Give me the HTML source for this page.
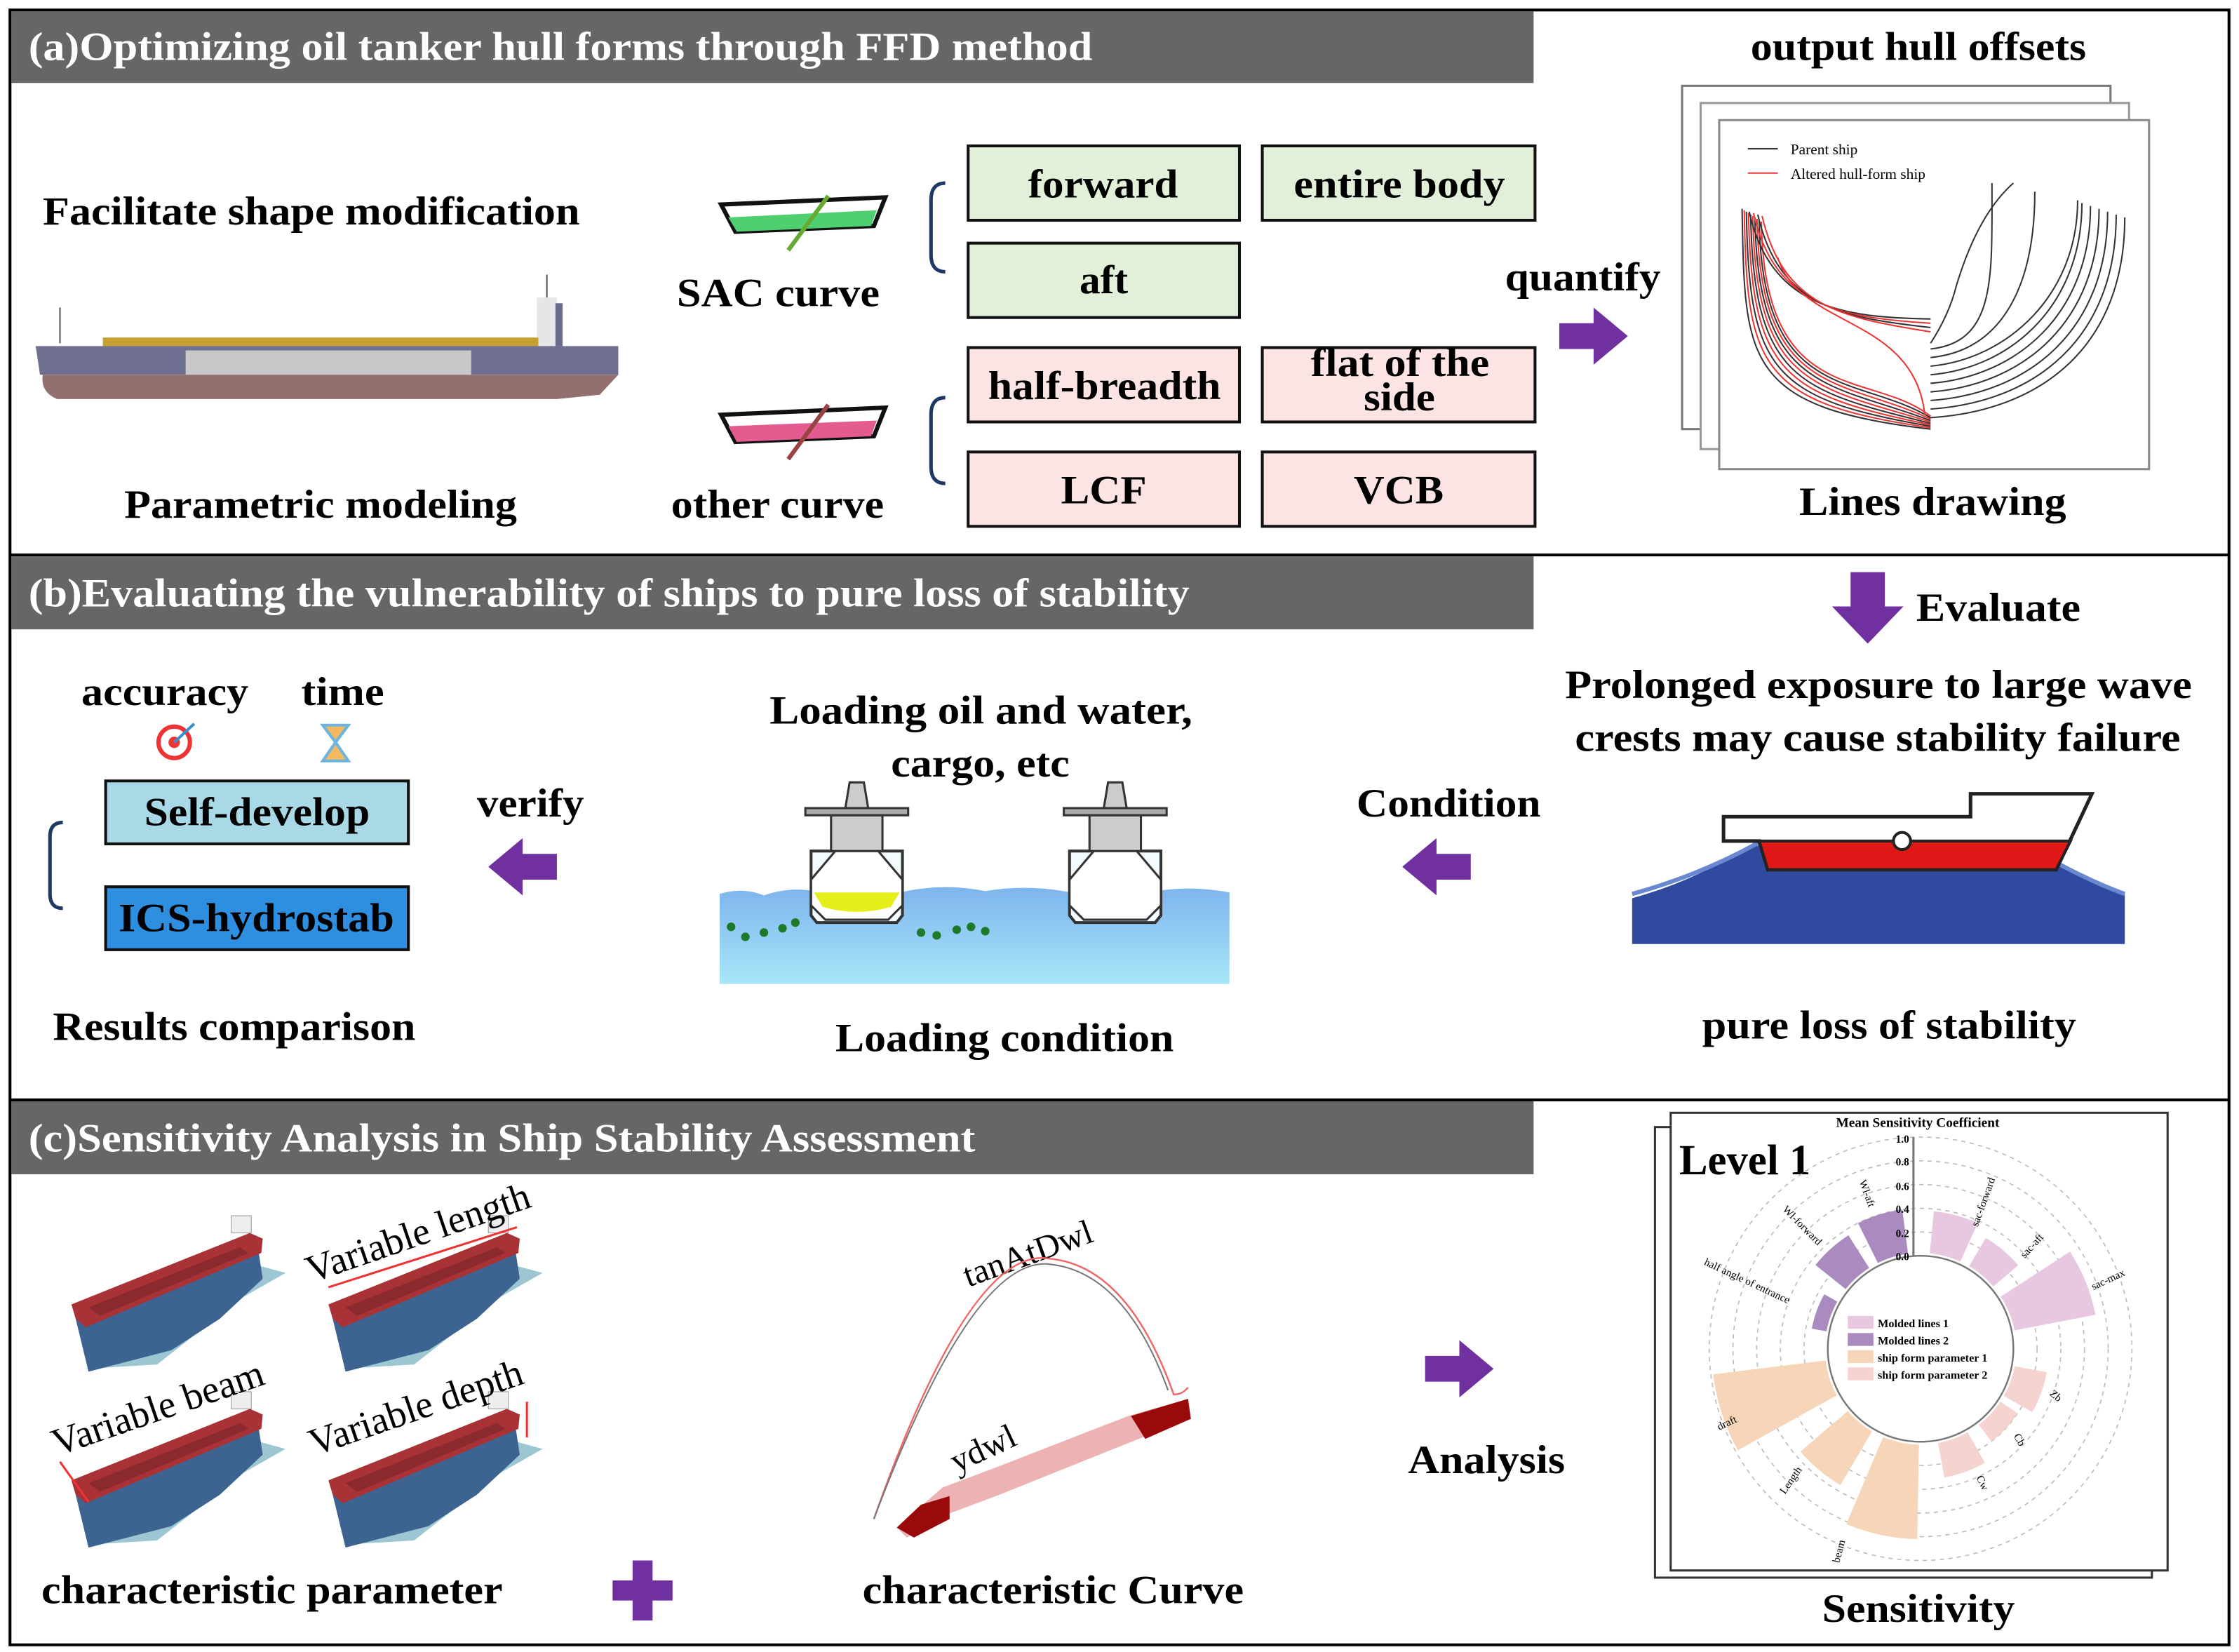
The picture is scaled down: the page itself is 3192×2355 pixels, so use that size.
<!DOCTYPE html>
<html><head><meta charset="utf-8"><style>
html,body{margin:0;padding:0;background:#fff;}
svg{display:block;}
text{font-family:"Liberation Serif","Times New Roman",serif;font-weight:bold;fill:#000;}
</style></head><body>
<svg id="s" width="3192" height="2355" viewBox="0 0 1568 1155" preserveAspectRatio="none" xmlns="http://www.w3.org/2000/svg" font-family="Liberation Serif, serif">
<defs>
<g id="arrow"><polygon points="0,-9 24,-9 24,-20 48,0 24,20 24,9 0,9" fill="#7030a0"/></g>
<g id="tk">
<polygon points="10,95 60,92 120,45 150,28 128,22 60,72" fill="#9cc7d2"/>
<polygon points="2,56 130,6 134,32 104,60 70,82 12,97" fill="#3d6491"/>
<polygon points="0,50 125,0 134,4 133,14 10,66 3,60" fill="#a83236"/>
<polygon points="12,52 118,10 124,14 20,58" fill="#8a2a2e"/>
<rect x="112" y="-12" width="14" height="12" fill="#eee" stroke="#999" stroke-width="0.5"/>
</g>
<g id="tanker">
<polygon points="-32,0 32,0 32,45 28,50 -28,50 -32,45" fill="#f4fbff" stroke="#333" stroke-width="2"/>
<polygon points="-15,0 15,0 32,20 32,38 22,48 -22,48 -32,38 -32,20" fill="#fff" stroke="#333" stroke-width="1.5"/>
<rect x="-18" y="-25" width="36" height="25" fill="#ccc" stroke="#333" stroke-width="1.5"/>
<polygon points="-36,-30 36,-30 36,-25 -36,-25" fill="#aaa" stroke="#333" stroke-width="1.5"/>
<polygon points="-8,-30 -5,-48 5,-48 8,-30" fill="#ccc" stroke="#333" stroke-width="1.5"/>
</g>
</defs>
<rect x="7" y="7" width="1554" height="1143" fill="none" stroke="#000" stroke-width="2"/>
<line x1="7" y1="388" x2="1561" y2="388" stroke="#000" stroke-width="2"/>
<line x1="7" y1="769" x2="1561" y2="769" stroke="#000" stroke-width="2"/>
<rect x="8" y="8" width="1066" height="50" fill="#666"/>
<rect x="8" y="389" width="1066" height="51" fill="#666"/>
<rect x="8" y="770" width="1066" height="51" fill="#666"/>
<text x="20" y="42" font-size="28" textLength="745" lengthAdjust="spacingAndGlyphs" style="fill:#fff">(a)Optimizing oil tanker hull forms through FFD method</text>
<text x="20" y="424" font-size="28" textLength="813" lengthAdjust="spacingAndGlyphs" style="fill:#fff">(b)Evaluating the vulnerability of ships to pure loss of stability</text>
<text x="20" y="805" font-size="28" textLength="663" lengthAdjust="spacingAndGlyphs" style="fill:#fff">(c)Sensitivity Analysis in Ship Stability Assessment</text>

<!-- section a -->
<text x="30" y="157" font-size="28" textLength="376" lengthAdjust="spacingAndGlyphs">Facilitate shape modification</text>
<text x="87" y="362" font-size="28" textLength="275" lengthAdjust="spacingAndGlyphs">Parametric modeling</text>
<g>
<line x1="42" y1="215" x2="42" y2="240" stroke="#555"/>
<line x1="383" y1="192" x2="383" y2="215" stroke="#555"/>
<rect x="376" y="208" width="14" height="35" fill="#e6e6e6"/>
<rect x="389" y="212" width="5" height="30" fill="#6b6b90"/>
<rect x="72" y="236" width="305" height="6" fill="#c8a030"/>
<path d="M25,242 L433,242 L433,262 L28,262 Z" fill="#6f6f8f"/>
<rect x="130" y="245" width="200" height="17" fill="#c8c8c8"/>
<path d="M30,262 L433,262 L420,276 L390,279 L40,279 Q28,274 30,262 Z" fill="#927070"/>
</g>
<g>
<path d="M505,143 L620,138 L612,158 L515,162 Z" fill="#fff" stroke="#111" stroke-width="3"/>
<path d="M510,152 L614,147 L610,158 L516,162 Z" fill="#4fcf6f"/>
<line x1="580" y1="137" x2="552" y2="175" stroke="#6a3" stroke-width="3"/>
<path d="M505,290 L620,285 L612,305 L515,309 Z" fill="#fff" stroke="#111" stroke-width="3"/>
<path d="M510,298 L614,294 L610,305 L516,309 Z" fill="#e45b8f"/>
<line x1="580" y1="283" x2="552" y2="321" stroke="#944" stroke-width="3"/>
</g>
<text x="474" y="214" font-size="28" textLength="142" lengthAdjust="spacingAndGlyphs">SAC curve</text>
<text x="470" y="362" font-size="28" textLength="149" lengthAdjust="spacingAndGlyphs">other curve</text>
<path d="M662,128 Q652,128 652,140 L652,178 Q652,190 662,190" fill="none" stroke="#1f3864" stroke-width="2.5"/>
<path d="M662,278 Q652,278 652,290 L652,326 Q652,338 662,338" fill="none" stroke="#1f3864" stroke-width="2.5"/>
<g stroke="#111" stroke-width="2">
<rect x="678" y="102" width="190" height="52" fill="#e2efd9"/>
<rect x="884" y="102" width="191" height="52" fill="#e2efd9"/>
<rect x="678" y="170" width="190" height="52" fill="#e2efd9"/>
<rect x="678" y="243" width="190" height="52" fill="#fce4e4"/>
<rect x="884" y="243" width="191" height="52" fill="#fce4e4"/>
<rect x="678" y="316" width="190" height="52" fill="#fce4e4"/>
<rect x="884" y="316" width="191" height="52" fill="#fce4e4"/>
</g>
<g font-size="28">
<text x="720" y="138" textLength="105" lengthAdjust="spacingAndGlyphs">forward</text>
<text x="906" y="138" textLength="148" lengthAdjust="spacingAndGlyphs">entire body</text>
<text x="756" y="205" textLength="34" lengthAdjust="spacingAndGlyphs">aft</text>
<text x="692" y="279" textLength="163" lengthAdjust="spacingAndGlyphs">half-breadth</text>
<text x="918" y="263" textLength="125" lengthAdjust="spacingAndGlyphs">flat of the</text>
<text x="955" y="287" textLength="50" lengthAdjust="spacingAndGlyphs">side</text>
<text x="743" y="352" textLength="60" lengthAdjust="spacingAndGlyphs">LCF</text>
<text x="948" y="352" textLength="63" lengthAdjust="spacingAndGlyphs">VCB</text>
</g>
<text x="1054" y="203" font-size="28" textLength="109" lengthAdjust="spacingAndGlyphs">quantify</text>
<use href="#arrow" x="1092" y="235"/>
<text x="1226" y="42" font-size="28" textLength="235" lengthAdjust="spacingAndGlyphs">output hull offsets</text>
<rect x="1178" y="60" width="300" height="240" fill="#fff" stroke="#777" stroke-width="1.5"/>
<rect x="1191" y="72" width="300" height="242" fill="#fff" stroke="#999" stroke-width="1.5"/>
<rect x="1204" y="84" width="301" height="244" fill="#fff" stroke="#888" stroke-width="1.5"/>
<line x1="1224" y1="104" x2="1245" y2="104" stroke="#333"/>
<line x1="1224" y1="121" x2="1245" y2="121" stroke="#e33"/>
<text x="1254" y="108" font-size="10.5" style="font-weight:normal">Parent ship</text>
<text x="1254" y="125" font-size="10.5" style="font-weight:normal">Altered hull-form ship</text>
<g id="lines" fill="none" stroke-width="1"></g>
<text x="1260" y="360" font-size="28" textLength="187" lengthAdjust="spacingAndGlyphs">Lines drawing</text>

<!-- section b -->
<polygon points="1296,400 1320,400 1320,424 1333,424 1308,450 1283,424 1296,424" fill="#7030a0"/>
<text x="1342" y="434" font-size="28" textLength="115" lengthAdjust="spacingAndGlyphs">Evaluate</text>
<text x="1096" y="488" font-size="28" textLength="439" lengthAdjust="spacingAndGlyphs">Prolonged exposure to large wave</text>
<text x="1103" y="525" font-size="28" textLength="424" lengthAdjust="spacingAndGlyphs">crests may cause stability failure</text>
<path d="M1143,660 L1143,628 Q1190,615 1230,588 L1420,590 Q1460,615 1488,625 L1488,660 Z" fill="#2f4a9f"/>
<path d="M1143,625 Q1190,612 1230,590 L1420,592 Q1460,615 1488,625" fill="none" stroke="#6a88d0" stroke-width="3"/>
<polygon points="1207,571 1380,571 1380,555 1465,555 1440,608 1238,608 1232,588 1207,588" fill="#fff" stroke="#222" stroke-width="2.5"/>
<polygon points="1232,588 1450,588 1440,608 1238,608" fill="#e01818" stroke="#222" stroke-width="2"/>
<circle cx="1332" cy="588" r="6" fill="#fff" stroke="#222" stroke-width="2"/>
<text x="1192" y="726" font-size="28" textLength="262" lengthAdjust="spacingAndGlyphs">pure loss of stability</text>
<text x="950" y="571" font-size="28" textLength="129" lengthAdjust="spacingAndGlyphs">Condition</text>
<use href="#arrow" transform="translate(1030,606) scale(-1,1)"/>
<text x="539" y="506" font-size="28" textLength="296" lengthAdjust="spacingAndGlyphs">Loading oil and water,</text>
<text x="624" y="543" font-size="28" textLength="125" lengthAdjust="spacingAndGlyphs">cargo, etc</text>
<defs><linearGradient id="wg" x1="0" y1="0" x2="0" y2="1"><stop offset="0" stop-color="#7eb4ee"/><stop offset="1" stop-color="#a8e6f8"/></linearGradient></defs>
<path d="M504,625 Q520,620 535,626 Q555,619 575,624 Q600,618 630,624 Q660,617 690,623 Q720,618 750,624 Q780,617 810,623 Q835,619 861,624 L861,688 L504,688 Z" fill="url(#wg)"/>
<use href="#tanker" x="600" y="595"/>
<use href="#tanker" x="781" y="595"/>
<path d="M570,624 L630,624 L624,634 Q600,641 576,634 Z" fill="#e6ee1a"/>
<g fill="#1c7a2a">
<circle cx="512" cy="648" r="3"/><circle cx="522" cy="655" r="3"/><circle cx="535" cy="652" r="3"/><circle cx="548" cy="649" r="3"/><circle cx="557" cy="645" r="3"/>
<circle cx="645" cy="652" r="3"/><circle cx="656" cy="654" r="3"/><circle cx="670" cy="650" r="3"/><circle cx="680" cy="648" r="3"/><circle cx="690" cy="651" r="3"/>
</g>
<text x="585" y="735" font-size="28" textLength="237" lengthAdjust="spacingAndGlyphs">Loading condition</text>
<text x="334" y="571" font-size="28" textLength="75" lengthAdjust="spacingAndGlyphs">verify</text>
<use href="#arrow" transform="translate(390,606) scale(-1,1)"/>
<text x="57" y="493" font-size="28" textLength="117" lengthAdjust="spacingAndGlyphs">accuracy</text>
<text x="211" y="493" font-size="28" textLength="58" lengthAdjust="spacingAndGlyphs">time</text>
<circle cx="122" cy="519" r="11" fill="#fff" stroke="#e33" stroke-width="3"/><circle cx="122" cy="519" r="4" fill="#e33"/>
<line x1="122" y1="519" x2="136" y2="506" stroke="#3a8fd0" stroke-width="2"/>
<path d="M226,507 L244,507 L235,519 L244,532 L226,532 L235,519 Z" fill="#f4b860" stroke="#6bb5e0" stroke-width="2"/>
<path d="M44,575 Q35,575 35,585 L35,625 Q35,635 44,635" fill="none" stroke="#1f3864" stroke-width="2.5"/>
<rect x="74" y="546" width="212" height="44" fill="#a9d8e6" stroke="#111" stroke-width="2"/>
<rect x="74" y="620" width="212" height="44" fill="#2e8fe0" stroke="#111" stroke-width="2"/>
<text x="101" y="577" font-size="28" textLength="158" lengthAdjust="spacingAndGlyphs">Self-develop</text>
<text x="83" y="651" font-size="28" textLength="193" lengthAdjust="spacingAndGlyphs">ICS-hydrostab</text>
<text x="37" y="727" font-size="28" textLength="254" lengthAdjust="spacingAndGlyphs">Results comparison</text>

<!-- section c -->
<use href="#tk" x="50" y="862"/>
<use href="#tk" x="230" y="862"/>
<use href="#tk" x="50" y="985"/>
<use href="#tk" x="230" y="985"/>
<line x1="230" y1="900" x2="362" y2="858" stroke="#e33" stroke-width="1.5"/>
<line x1="42" y1="1022" x2="62" y2="1050" stroke="#e33" stroke-width="1.5"/>
<line x1="369" y1="980" x2="369" y2="1005" stroke="#e33" stroke-width="1.5"/>
<text transform="translate(218,897) rotate(-19)" font-size="27" style="font-weight:normal">Variable length</text>
<text transform="translate(40,1018) rotate(-19)" font-size="27" style="font-weight:normal">Variable beam</text>
<text transform="translate(220,1018) rotate(-19)" font-size="27" style="font-weight:normal">Variable depth</text>
<text x="29" y="1121" font-size="28" textLength="323" lengthAdjust="spacingAndGlyphs">characteristic parameter</text>
<path d="M443,1091 h14 v14 h14 v14 h-14 v14 h-14 v-14 h-14 v-14 h14 z" fill="#7030a0"/>
<text transform="translate(678,900) rotate(-20)" font-size="24" style="font-weight:normal">tanAtDwl</text>
<path d="M612,1062 Q680,870 735,880 Q790,885 822,975 Q828,975 832,970" fill="none" stroke="#e66" stroke-width="1.2"/>
<path d="M612,1062 Q682,876 736,884 Q788,890 818,972" fill="none" stroke="#777" stroke-width="1"/>
<text transform="translate(670,1030) rotate(-25)" font-size="24" style="font-weight:normal">ydwl</text>
<polygon points="628,1068 660,1040 700,1025 790,990 832,978 834,992 800,1005 700,1045 660,1060 635,1075" fill="#e8a0a0" opacity="0.8"/>
<polygon points="628,1068 645,1052 665,1046 665,1062 640,1075" fill="#9a0a0a"/>
<polygon points="792,990 832,978 834,992 802,1006" fill="#9a0a0a"/>
<text x="604" y="1121" font-size="28" textLength="267" lengthAdjust="spacingAndGlyphs">characteristic Curve</text>
<use href="#arrow" x="998" y="957"/>
<text x="986" y="1030" font-size="28" textLength="110" lengthAdjust="spacingAndGlyphs">Analysis</text>
<rect x="1159" y="788" width="348" height="315" fill="#fff" stroke="#333" stroke-width="1.5"/>
<rect x="1170" y="778" width="348" height="320" fill="#fff" stroke="#333" stroke-width="1.5"/>
<text x="1343" y="788" font-size="9.5" text-anchor="middle">Mean Sensitivity Coefficient</text>
<text x="1176" y="821" font-size="30" textLength="92" lengthAdjust="spacingAndGlyphs">Level 1</text>
<g id="polar"></g>
<g font-size="8">
<rect x="1294" y="920" width="18" height="9" fill="#e8c8e0"/><text x="1315" y="928">Molded lines 1</text>
<rect x="1294" y="932" width="18" height="9" fill="#a98bbf"/><text x="1315" y="940">Molded lines 2</text>
<rect x="1294" y="944" width="18" height="9" fill="#f6d5b8"/><text x="1315" y="952">ship form parameter 1</text>
<rect x="1294" y="956" width="18" height="9" fill="#f5d3cf"/><text x="1315" y="964">ship form parameter 2</text>
</g>
<g font-size="7.5">
<text x="1337" y="799" text-anchor="end">1.0</text>
<text x="1337" y="815" text-anchor="end">0.8</text>
<text x="1337" y="832" text-anchor="end">0.6</text>
<text x="1337" y="848" text-anchor="end">0.4</text>
<text x="1337" y="865" text-anchor="end">0.2</text>
<text x="1337" y="881" text-anchor="end">0.0</text>
<text transform="translate(1385,858) rotate(-70)" style="font-weight:normal">sac-forward</text>
<text transform="translate(1418,880) rotate(-48)" style="font-weight:normal">sac-aft</text>
<text transform="translate(1466,902) rotate(-25)" style="font-weight:normal">sac-max</text>
<text transform="translate(1435,975) rotate(40)" style="font-weight:normal">Zb</text>
<text transform="translate(1410,1004) rotate(60)" style="font-weight:normal">Cb</text>
<text transform="translate(1384,1033) rotate(65)" style="font-weight:normal">Cw</text>
<text transform="translate(1288,1093) rotate(-75)" style="font-weight:normal">beam</text>
<text transform="translate(1250,1045) rotate(-55)" style="font-weight:normal">Length</text>
<text transform="translate(1204,1000) rotate(-25)" style="font-weight:normal">draft</text>
<text transform="translate(1193,884) rotate(25)" style="font-weight:normal">half angle of entrance</text>
<text transform="translate(1248,846) rotate(45)" style="font-weight:normal">Wl-forward</text>
<text transform="translate(1302,826) rotate(70)" style="font-weight:normal">Wl-aft</text>
</g>
<text x="1276" y="1134" font-size="28" textLength="135" lengthAdjust="spacingAndGlyphs">Sensitivity</text>
</svg>
<script>
var NS="http://www.w3.org/2000/svg";
function el(p,t,a){var e=document.createElementNS(NS,t);for(var k in a)e.setAttribute(k,a[k]);p.appendChild(e);return e;}
var P=document.getElementById('polar'),cx=1345,cy=943,r0=65,sc=83;
for(var i=1;i<=5;i++)el(P,'circle',{cx:cx,cy:cy,r:r0+sc*i*0.2,fill:'none',stroke:'#bbb','stroke-width':0.8,'stroke-dasharray':'3,3'});
var bars=[[15,0.38,'#e8c8e0'],[40,0.3,'#e8c8e0'],[68,0.72,'#e8c8e0'],[110,0.3,'#f5d3cf'],[133,0.2,'#f5d3cf'],[160,0.32,'#f5d3cf'],[192,0.82,'#f6d5b8'],[220,0.55,'#f6d5b8'],[252,0.98,'#f6d5b8'],[290,0.15,'#a98bbf'],[318,0.35,'#a98bbf'],[343,0.4,'#a98bbf']];
function pt(a,r){var t=a*Math.PI/180;return [cx+r*Math.sin(t),cy-r*Math.cos(t)];}
bars.forEach(function(b){var w=b[0]==68||b[0]==192||b[0]==252?11:9.5;var a1=b[0]-w,a2=b[0]+w,r1=r0+2,r2=r0+sc*b[1];
var p1=pt(a1,r1),p2=pt(a1,r2),p3=pt(a2,r2),p4=pt(a2,r1);
el(P,'path',{d:'M'+p1+' L'+p2+' A'+r2+','+r2+' 0 0 1 '+p3+' L'+p4+' A'+r1+','+r1+' 0 0 0 '+p1+' Z',fill:b[2]});});
el(P,'circle',{cx:cx,cy:cy,r:r0,fill:'#fff',stroke:'#777','stroke-width':1.2});
el(P,'line',{x1:1340,y1:795,x2:1340,y2:878,stroke:'#777','stroke-width':1.5});
var L=document.getElementById('lines');
// left side: curves from top-left going down to keel at (1352,300)
for(var i=0;i<10;i++){var col=i%2?'#e33':'#333';var x0=1220+i*1.5,y0=146+i*1;
var c1y=210+i*4, c2x=1250+i*10;
el(L,'path',{d:'M'+x0+','+y0+' C'+(x0+2)+','+(c1y+40)+' '+(c2x-30)+','+(285-i*3)+' 1352,'+(300-i*1),stroke:col});}
for(var i=0;i<4;i++){var col=i%2?'#e33':'#333';
el(L,'path',{d:'M'+(1225+i*3)+','+(148+i*1)+' C'+(1240+i*3)+','+(215)+' 1290,222 1352,'+(223+i*3),stroke:col});}
el(L,'path',{d:'M1245,180 C1260,230 1340,220 1348,290',stroke:'#e33'});
// right side
for(var i=0;i<9;i++){var by=292-i*6;var tx=1488-i*6,ty=152-i*2;if(i>=6){tx=1455-(i-6)*30;ty=140-(i-6)*6;}
el(L,'path',{d:'M1352,'+by+' C'+(1430-i*4)+','+(by-5)+' '+(tx)+','+(by-50)+' '+tx+','+ty,stroke:'#333'});}
el(L,'path',{d:'M1352,240 Q1365,220 1370,200 Q1385,150 1410,128',stroke:'#333'});
</script>
</body></html>
